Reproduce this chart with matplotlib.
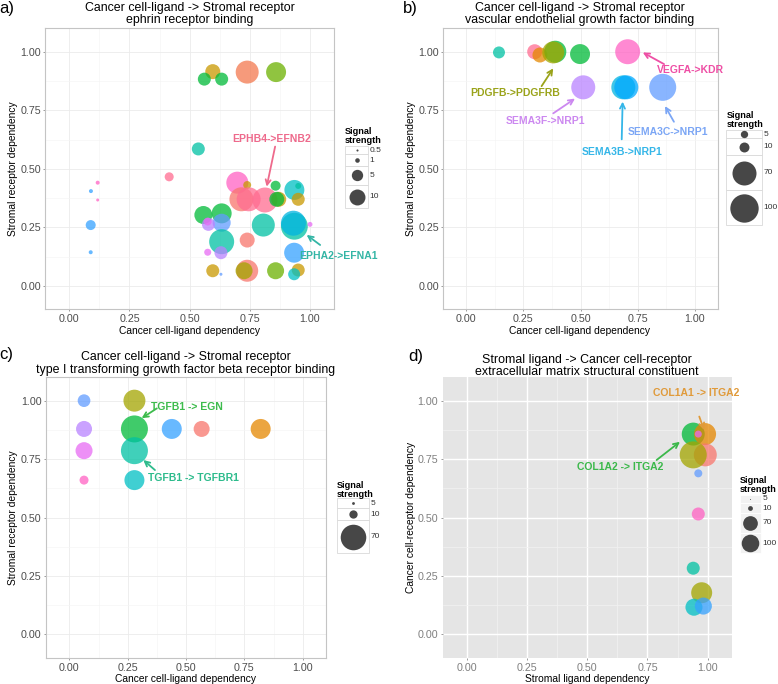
import numpy as np
import matplotlib.pyplot as plt
from matplotlib.patches import Rectangle

W, H = 778, 684
plt.rcParams['font.family'] = ['Liberation Sans', 'DejaVu Sans']

# ggplot-like hue colours used by the ligand/receptor pairs
PALETTE = {
    'red': '#F8766D', 'coral': '#F3794F', 'orange': '#E58700', 'gold': '#C99800',
    'olive': '#A3A500', 'lime': '#6BB100', 'green': '#00BA38', 'teal': '#00C1A3',
    'cyan': '#00BFC4', 'cyan2': '#00B4E0', 'sky': '#35A2FF', 'sky2': '#00A9FF',
    'blue': '#619CFF', 'purple': '#B983FF', 'violet': '#E76BF3',
    'magenta': '#FF61C3', 'rose': '#FF6C91',
}

# ---- a) ephrin receptor binding
a_x = [0.596, 0.561, 0.633, 0.739, 0.859, 0.536, 0.415, 0.118, 0.090, 0.118, 0.089,
       0.089, 0.698, 0.739, 0.715, 0.745, 0.813, 0.857, 0.870, 0.862, 0.935, 0.951,
       0.951, 0.557, 0.633, 0.633, 0.578, 0.575, 0.633, 0.806, 0.935, 0.931, 1.000,
       0.739, 0.575, 0.630, 0.934, 0.596, 0.630, 0.739, 0.726, 0.857, 0.951, 0.934]
a_y = [0.915, 0.883, 0.883, 0.913, 0.913, 0.585, 0.466, 0.441, 0.405, 0.367, 0.260,
       0.144, 0.441, 0.431, 0.370, 0.370, 0.367, 0.428, 0.370, 0.370, 0.410, 0.427,
       0.370, 0.303, 0.310, 0.270, 0.263, 0.275, 0.189, 0.260, 0.255, 0.268, 0.263,
       0.196, 0.144, 0.142, 0.142, 0.065, 0.050, 0.065, 0.065, 0.065, 0.068, 0.050]
a_strength = [8.8, 6.6, 6.6, 21.1, 15.8, 6.6, 3.2, 0.83, 0.83, 0.62, 3.9,
              0.83, 19.3, 2.5, 23.0, 23.0, 25.0, 3.9, 8.8, 8.8, 15.8, 1.5,
              6.6, 12.8, 15.8, 12.8, 6.6, 2.5, 25.0, 21.1, 29.0, 25.0, 1.1,
              8.8, 2.0, 6.6, 15.8, 6.6, 0.62, 19.3, 11.4, 11.4, 6.6, 5.6]
a_col = ['gold', 'green', 'green', 'coral', 'lime', 'teal', 'rose', 'magenta', 'sky',
         'magenta', 'sky', 'sky', 'magenta', 'gold', 'red', 'rose', 'rose', 'green',
         'gold', 'green', 'cyan', 'teal', 'gold', 'green', 'green', 'blue', 'purple',
         'violet', 'teal', 'teal', 'teal', 'cyan2', 'violet', 'red', 'violet', 'purple',
         'sky', 'gold', 'blue', 'red', 'olive', 'lime', 'gold', 'cyan']
a_legend = [0.5, 1, 5, 10]

# ---- b) vascular endothelial growth factor binding
b_x = [0.144, 0.300, 0.323, 0.390, 0.381, 0.498, 0.706, 0.512, 0.687, 0.700, 0.859]
b_y = [0.997, 1.000, 0.986, 1.000, 0.997, 0.990, 1.000, 0.848, 0.848, 0.848, 0.848]
b_strength = [15.2, 25.1, 25.1, 58, 58, 47, 76, 70, 70, 70, 90]
b_col = ['teal', 'rose', 'orange', 'green', 'olive', 'green', 'magenta', 'purple',
         'cyan2', 'sky2', 'blue']
b_legend = [5, 10, 70, 100]

# ---- c) type I TGF-beta receptor binding
c_x = [0.063, 0.279, 0.063, 0.279, 0.439, 0.567, 0.820, 0.063, 0.279, 0.063, 0.279]
c_y = [1.000, 1.000, 0.879, 0.879, 0.879, 0.879, 0.879, 0.786, 0.786, 0.660, 0.660]
c_strength = [18.9, 52, 28.5, 78, 43.3, 28.5, 43.3, 31.9, 78, 11.1, 43.3]
c_col = ['blue', 'olive', 'purple', 'green', 'sky', 'red', 'orange', 'violet',
         'teal', 'magenta', 'cyan']
c_legend = [5, 10, 70]

# ---- d) extracellular matrix structural constituent
d_x = [0.940, 0.989, 0.961, 0.990, 0.940, 0.961, 0.961, 0.940, 0.975, 0.943, 0.982]
d_y = [0.857, 0.857, 0.857, 0.768, 0.768, 0.689, 0.515, 0.283, 0.178, 0.116, 0.121]
d_strength = [172, 158, 17.5, 172, 239, 22, 55, 55, 143, 94, 94]
d_col = ['green', 'orange', 'violet', 'red', 'olive', 'blue', 'magenta', 'teal',
         'olive', 'cyan', 'sky']
d_legend = [5, 10, 70, 100]

# size scale per panel: diameter(px) = d0 + k * sqrt(value - v0)
SCALE_A = (1.0, 0.45, 4.84)
SCALE_B = (2.0, 1.0, 2.65)
SCALE_C = (1.5, 4.8, 2.98)
SCALE_D = (1.0, 5.0, 1.7)


def diam(v, sc):
    d0, v0, k = sc
    return d0 + k * np.sqrt(np.clip(np.asarray(v, float) - v0, 0, None))


def area(v, sc):
    return (diam(v, sc) * 0.72) ** 2


def make_axes(fig, l, t, r, b):
    return fig.add_axes([l / W, 1 - b / H, (r - l) / W, (b - t) / H])


def style(ax, grey=False):
    ticks = [0, 0.25, 0.5, 0.75, 1.0]
    minors = [0.125, 0.375, 0.625, 0.875]
    ax.set_xlim(-0.1, 1.1)
    ax.set_ylim(-0.1, 1.1)
    ax.set_xticks(ticks)
    ax.set_yticks(ticks)
    ax.set_xticklabels(['%.2f' % t for t in ticks])
    ax.set_yticklabels(['%.2f' % t for t in ticks])
    ax.set_xticks(minors, minor=True)
    ax.set_yticks(minors, minor=True)
    lab = '#7F7F7F' if grey else '#4D4D4D'
    ax.tick_params(which='major', length=1.5, width=0.6, color='#8C8C8C',
                   labelsize=7.7, labelcolor=lab)
    ax.tick_params(axis='x', which='major', pad=2.0)
    ax.tick_params(axis='y', which='major', pad=1.6)
    ax.tick_params(which='minor', length=0)
    ax.set_axisbelow(True)
    if grey:
        ax.set_facecolor('#E5E5E5')
        ax.grid(which='major', color='white', lw=1.0)
        ax.grid(which='minor', color='#F2F2F2', lw=0.5)
        for s in ax.spines.values():
            s.set_visible(False)
    else:
        ax.grid(which='major', color='#EBEBEB', lw=0.6)
        ax.grid(which='minor', color='#F5F5F5', lw=0.5)
        for s in ax.spines.values():
            s.set_color('#C4C4C4')
            s.set_linewidth(0.8)


def bubbles(ax, xs, ys, vals, cols, sc):
    ax.scatter(xs, ys, s=area(vals, sc), c=[PALETTE[c] for c in cols],
               alpha=0.75, linewidths=0, zorder=3)


def note(ax, text, txy, tail, tip, color):
    ax.annotate('', xy=tip, xytext=tail, annotation_clip=False, zorder=5,
                arrowprops=dict(arrowstyle='->', color=color, lw=1.3,
                                shrinkA=0, shrinkB=0, mutation_scale=9))
    ax.text(txy[0], txy[1], text, ha='center', va='center', color=color,
            fontsize=7.5, fontweight='bold', clip_on=False, zorder=5,
            family=['Liberation Sans Narrow', 'Liberation Sans'])


fig = plt.figure(figsize=(W / 100, H / 100), dpi=100)

ax_a = make_axes(fig, 45.2, 28.3, 334.1, 309.4)
ax_b = make_axes(fig, 443.1, 28.3, 717.9, 309.4)
ax_c = make_axes(fig, 46.0, 377.3, 326.0, 657.7)
ax_d = make_axes(fig, 442.6, 377.3, 731.8, 657.7)

for ax in (ax_a, ax_b, ax_c):
    style(ax)
style(ax_d, grey=True)

bubbles(ax_a, a_x, a_y, a_strength, a_col, SCALE_A)
bubbles(ax_b, b_x, b_y, b_strength, b_col, SCALE_B)
bubbles(ax_c, c_x, c_y, c_strength, c_col, SCALE_C)
bubbles(ax_d, d_x, d_y, d_strength, d_col, SCALE_D)

note(ax_a, 'EPHB4->EFNB2', (0.841, 0.626), (0.855, 0.595), (0.82, 0.424), '#EE6A8C')
note(ax_a, 'EPHA2->EFNA1', (1.118, 0.129), (1.042, 0.175), (0.986, 0.218), '#33B5A5')

note(ax_b, 'PDGFB->PDGFRB', (0.214, 0.825), (0.33, 0.853), (0.381, 0.929), '#9AA31A')
note(ax_b, 'VEGFA->KDR', (0.978, 0.922), (0.865, 0.947), (0.772, 0.997), '#EE4FA5')
note(ax_b, 'SEMA3F->NRP1', (0.348, 0.704), (0.381, 0.737), (0.476, 0.80), '#CC88F0')
note(ax_b, 'SEMA3B->NRP1', (0.68, 0.573), (0.68, 0.626), (0.684, 0.787), '#35B6E8')
note(ax_b, 'SEMA3C->NRP1', (0.883, 0.656), (0.908, 0.701), (0.869, 0.768), '#7BA6F5')

note(ax_c, 'TGFB1 -> EGN', (0.506, 0.974), (0.375, 0.967), (0.31, 0.925), '#3DBB4C')
note(ax_c, 'TGFB1 -> TGFBR1', (0.531, 0.668), (0.367, 0.703), (0.317, 0.746), '#2DBB8C')

note(ax_d, 'COL1A1 -> ITGA2', (0.954, 1.032), (0.965, 0.932), (0.985, 0.875), '#E09A3A')
note(ax_d, 'COL1A2 -> ITGA2', (0.636, 0.715), (0.788, 0.746), (0.885, 0.824), '#3BB84A')

# overlay in pixel coordinates for texts and legends
ov = fig.add_axes([0, 0, 1, 1], zorder=10)
ov.set_xlim(0, W)
ov.set_ylim(H, 0)
ov.axis('off')
ov.patch.set_alpha(0)

titles = [
    (190, 'Cancer cell-ligand -> Stromal receptor', 'ephrin receptor binding', 7.7),
    (580, 'Cancer cell-ligand -> Stromal receptor',
     'vascular endothelial growth factor binding', 7.7),
    (186, 'Cancer cell-ligand -> Stromal receptor',
     'type I transforming growth factor beta receptor binding', 356.7),
    (587, 'Stromal ligand -> Cancer cell-receptor',
     'extracellular matrix structural constituent', 359.5),
]
for x, l1, l2, y in titles:
    ov.text(x, y, l1, ha='center', va='center', fontsize=8.9)
    ov.text(x, y + 12.8, l2, ha='center', va='center', fontsize=8.9)

for x, y, s in [(7, 8, 'a)'), (410, 8, 'b)'), (6, 355, 'c)'), (416, 357, 'd)')]:
    ov.text(x, y, s, ha='center', va='center', fontsize=12)

for x, y in [(13, 169), (410.7, 169), (13, 517.5)]:
    ov.text(x, y, 'Stromal receptor dependency', rotation=90, ha='center',
            va='center', fontsize=7.4)
ov.text(410.7, 517.5, 'Cancer cell-receptor dependency', rotation=90,
        ha='center', va='center', fontsize=7.4)
for x, y in [(190, 331), (580, 331), (186, 679.5)]:
    ov.text(x, y, 'Cancer cell-ligand dependency', ha='center', va='center',
            fontsize=7.4)
ov.text(587, 679.5, 'Stromal ligand dependency', ha='center', va='center',
        fontsize=7.4)


def legend(x0, x1, title_y, edges, vals, sc, grey=False):
    ov.text(x0, title_y, 'Signal\nstrength', ha='left', va='top', fontsize=6.6,
            fontweight='bold', linespacing=1.0)
    for i, v in enumerate(vals):
        t, b = edges[i], edges[i + 1]
        if grey:
            ov.add_patch(Rectangle((x0, t), x1 - x0, b - t, facecolor='#F2F2F2',
                                   edgecolor='white', lw=0.6))
        else:
            ov.add_patch(Rectangle((x0, t), x1 - x0, b - t, facecolor='white',
                                   edgecolor='#D9D9D9', lw=0.6))
        ov.scatter([(x0 + x1) / 2], [(t + b) / 2], s=area([v], sc), c='#333333',
                   alpha=0.9, linewidths=0, zorder=11)
        ov.text(x1 + 1.5, (t + b) / 2, '%g' % v, ha='left', va='center',
                fontsize=6.0, color='#333333')


legend(345, 368.3, 127, [146, 154.3, 165.7, 185, 208.3], a_legend, SCALE_A)
legend(726.3, 762.3, 111, [130, 138.3, 155, 190, 225], b_legend, SCALE_B)
legend(336.7, 369.3, 481, [498.3, 508.3, 520, 553.3], c_legend, SCALE_C)
legend(739.7, 761.3, 476, [495, 503, 513, 533, 553.3], d_legend, SCALE_D, grey=True)

fig.savefig('out.png', dpi=100)
